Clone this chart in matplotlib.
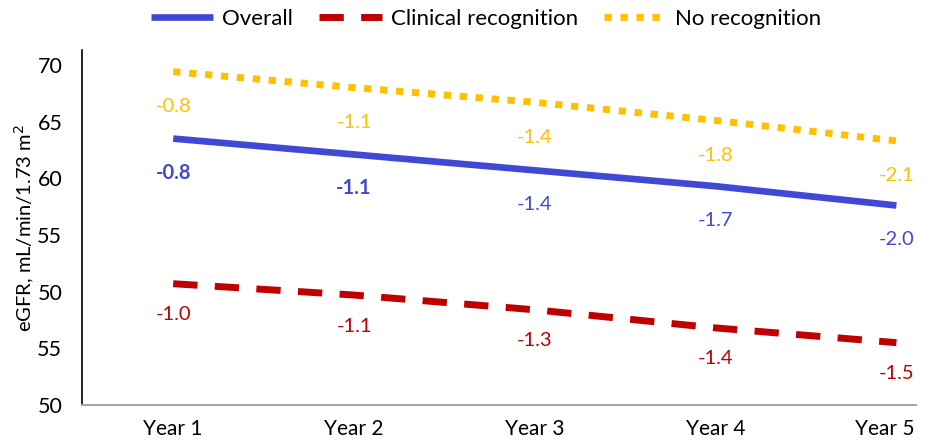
import matplotlib.pyplot as plt
import matplotlib.transforms as mtransforms
import numpy as np

# eGFR trajectories over follow-up, with annual slope labels
years = ['Year 1', 'Year 2', 'Year 3', 'Year 4', 'Year 5']
overall = [63.5, 62.1, 60.7, 59.3, 57.6]
clinical = [50.7, 49.7, 48.4, 46.8, 45.5]
no_recog = [69.4, 68.0, 66.7, 65.1, 63.3]

overall_lbl = ['-0.8', '-1.1', '-1.4', '-1.7', '-2.0']
clinical_lbl = ['-1.0', '-1.1', '-1.3', '-1.4', '-1.5']
no_recog_lbl = ['-0.8', '-1.1', '-1.4', '-1.8', '-2.1']

# broken scale: tick positions vs. the labels written on them
ytick_pos = [70, 65, 60, 55, 50, 45, 40]
ytick_lbl = ['70', '65', '60', '55', '50', '55', '50']

blue = '#4049D4'
red = '#C00000'
yellow = '#FFC000'

plt.rcParams['font.family'] = ['Lato', 'DejaVu Sans']

fig = plt.figure(figsize=(9.35, 4.4), dpi=100)
ax = fig.add_axes([0.0874, 0.0795, 0.8926, 0.8065])

x = np.arange(len(years))
ax.plot(x, overall, color=blue, lw=4.8, solid_capstyle='butt', label='Overall')
ax.plot(x, clinical, color=red, lw=5, linestyle=(0, (3.5, 2.5)), dash_capstyle='butt',
        label='Clinical recognition')
ax.plot(x, no_recog, color=yellow, lw=5, linestyle=(0, (1.05, 1.25)), dash_capstyle='butt',
        label='No recognition')

def slope_labels(vals, lbls, color, off, bold=()):
    for i, (v, t) in enumerate(zip(vals, lbls)):
        ax.annotate(t, (x[i], v), xytext=(0, -off), textcoords='offset pixels',
                    ha='center', va='center', color=color, fontsize=14.5,
                    fontweight='bold' if i in bold else 'normal')

slope_labels(no_recog, no_recog_lbl, yellow, 35)
slope_labels(overall, overall_lbl, blue, 34, bold=(0, 1))
slope_labels(clinical, clinical_lbl, red, 31)

ax.set_xlim(-0.506, 4.11)
ax.set_ylim(40, 71.3)
ax.set_xticks(x)
ax.set_xticklabels(years, fontsize=15)
ax.set_yticks(ytick_pos)
ax.set_yticklabels(ytick_lbl, fontsize=15.5)
ax.tick_params(length=0, pad=10)
ax.tick_params(axis='y', pad=14)
ax.set_ylabel('eGFR, mL/min/1.73 m$^2$', fontsize=14.5, labelpad=0)

# last category label sits a little left so it stays inside the figure
last = ax.get_xticklabels()[-1]
last.set_transform(last.get_transform() +
                   mtransforms.ScaledTranslation(-0.12, 0, fig.dpi_scale_trans))

for s in ['top', 'right']:
    ax.spines[s].set_visible(False)
ax.spines['left'].set_color('black')
ax.spines['left'].set_linewidth(1.2)
ax.spines['bottom'].set_color('#A6A6A6')
ax.spines['bottom'].set_linewidth(1.5)

fig.legend(loc='center', bbox_to_anchor=(0.52, 0.957), ncol=3, frameon=False,
           fontsize=16, handlelength=2.8, handletextpad=0.4, columnspacing=1.2)

fig.savefig('out.png', dpi=100)
